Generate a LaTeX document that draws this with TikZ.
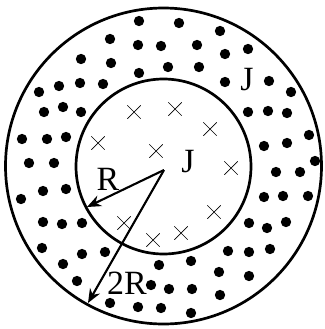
\documentclass[tikz,border=0pt]{standalone}
\usepackage{fontspec}
\setmainfont{Liberation Serif}
\usetikzlibrary{arrows.meta,shapes.misc}

\begin{document}
\begin{tikzpicture}[x=0.3mm,y=-0.3mm,
   dot/.style={circle,fill=black,inner sep=0pt,minimum size=3.1mm},
   crs/.style={cross out,draw=black,line width=0.6pt,inner sep=0pt,minimum size=3.8mm},
   lbl/.style={font=\fontsize{29}{29}\selectfont,inner sep=0pt}]
  \useasboundingbox (0,0) rectangle (324,329);
  % the two boundaries
  \draw[line width=2.3pt] (163.5,166) circle[radius=158];
  \draw[line width=2.3pt] (163.5,166.5) circle[radius=87.5];
  % current out of the page in the ring
  \foreach \x/\y [count=\i] in {139/21,179/23,110/39,220/31,138/45,161/46,197/45,225/54,248/49,
      81/59,111/63,139/73,168/67,199/67,59/86,80/83,103/84,39/92,225/82,269/81,291/92,
      44/112,63/107,81/112,248/112,268/111,287/113,22/139,47/139,66/137,309/135,264/146,
      287/143,29/163,54/163,315/161,276/172,300/172,43/191,66/189,21/199,264/197,283/196,
      308/196,43/222,62/224,82/223,249/223,267/228,286/222,42/248,82/254,105/252,228/251,
      249/252,270/249,63/264,159/265,191/261,77/281,151/285,169/289,192/289,219/272,
      249/276,220/295,110/303,138/307,161/308,191/313}{
    \node[dot] (d\i) at (\x,\y) {};
  }
  % current into the page in the core
  \foreach \x/\y [count=\i] in {134/112,175/109,210/129,98/143,156/151,231/168,
      214/212,124/223,181/233,153/240}{
    \node[crs] (c\i) at (\x,\y) {};
  }
  \coordinate (o) at (164,170);
  \coordinate (r1) at (87,207);
  \coordinate (r2) at (88,303);
  \draw[line width=1.8pt,-{Stealth[length=4.2mm,width=3.4mm]}] (o)--(r1);
  \draw[line width=1.8pt,-{Stealth[length=4.2mm,width=3.4mm]}] (o)--(r2);
  \node[lbl] (lr) at (108,179) {R};
  \node[lbl] (l2r) at (127,283) {2R};
  \node[lbl] (jin) at (188,162) {J};
  \node[lbl] (jout) at (247,80) {J};
\end{tikzpicture}
\end{document}
